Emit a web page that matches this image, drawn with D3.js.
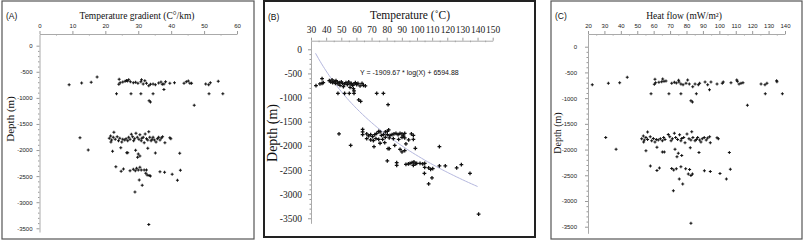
<!DOCTYPE html>
<html>
<head>
<meta charset="utf-8">
<script src="https://cdn.jsdelivr.net/npm/d3@7"></script>
<style>
  body { margin: 0; background: #fff; }
  svg { display: block; }
</style>
</head>
<body>
<script>
// ---- data: [x value, depth (m)] ----
const gradPoints = [
  [9.0,-747],[12.8,-715],[15.7,-702],[17.5,-600],
  [24.1,-741],[24.2,-645],[24.5,-709],[25.3,-696],[26.0,-683],[26.4,-665],[26.7,-677],[27.1,-652],[27.6,-690],
  [28.5,-709],[29.2,-702],[29.9,-722],[30.8,-690],[31.0,-655],[31.5,-734],[32.0,-672],[32.5,-722],[33.2,-766],
  [33.7,-741],[34.5,-734],[35.2,-747],[36.2,-715],[36.9,-696],[37.3,-741],[37.8,-734],[38.3,-690],[39.6,-722],
  [41.0,-709],[43.9,-722],[44.6,-690],[45.2,-675],[45.7,-722],[46.2,-722],[50.5,-734],[51.4,-747],[51.9,-709],[54.3,-683],
  [23.4,-920],[27.8,-920],[30.8,-920],[34.5,-920],[51.5,-920],[55.7,-920],
  [37.8,-842],[33.3,-1054],[33.7,-1079],[47.0,-1143],
  [12.3,-1763],[14.8,-1999],[22.6,-1660],
  [21.6,-1731],[21.2,-1775],[21.9,-1807],[21.7,-1846],[22.4,-1756],[23.0,-1794],[23.6,-1743],[24.0,-1820],
  [24.4,-1775],[25.0,-1846],[25.3,-1794],[25.9,-1807],[26.3,-1782],[26.8,-1820],[27.1,-1756],[27.5,-1794],
  [27.9,-1699],[28.3,-1743],[28.6,-1820],[28.9,-1782],[29.3,-1680],[29.7,-1756],[30.2,-1794],[30.5,-1705],
  [30.9,-1820],[31.1,-1775],[31.5,-1756],[31.8,-1858],[32.1,-1692],[32.5,-1782],[32.9,-1807],[33.2,-1648],
  [33.5,-1756],[33.9,-1820],[34.2,-1794],[34.5,-1756],[34.9,-1807],[35.4,-1846],[35.8,-1782],[36.2,-1756],
  [36.6,-1807],[37.0,-1769],[37.4,-1743],[38.1,-1858],[39.6,-1763],[39.9,-1782],
  [22.2,-2024],[24.7,-1954],[26.5,-2050],[26.8,-2050],[29.2,-2005],[30.0,-2075],[30.5,-2114],[29.8,-2139],
  [32.9,-1967],[35.2,-2056],[42.6,-2062],
  [23.2,-2318],[25.5,-2363],[24.8,-2407],[27.5,-2395],[28.5,-2369],[29.1,-2395],[29.5,-2350],[30.0,-2382],
  [30.5,-2331],[30.9,-2382],[31.8,-2382],[32.5,-2382],[32.3,-2446],[32.7,-2478],[33.3,-2490],[33.7,-2497],
  [36.6,-2414],[38.0,-2427],[40.3,-2465],[42.8,-2388],[41.9,-2580],[30.3,-2573],[31.2,-2675],[29.0,-2803],
  [33.2,-3429]
];

const tempPoints = [
  [33.3,-752],[35.9,-718],[37.3,-704],[38.1,-690],[37.3,-607],
  [42.1,-649],[43.0,-676],[43.9,-635],[44.3,-690],[45.2,-663],[46.1,-704],[46.5,-649],[47.4,-676],[47.8,-718],
  [48.7,-690],[49.2,-745],[50.0,-676],[50.9,-704],[51.4,-773],[52.2,-718],[53.1,-690],[54.0,-732],[54.9,-676],
  [55.8,-718],[56.6,-704],[57.5,-745],[58.4,-718],[59.3,-690],[60.2,-732],[61.0,-704],[62.4,-759],[63.7,-704],
  [64.6,-745],[65.9,-759],[58.0,-815],[55.8,-787],
  [47.8,-911],[52.2,-911],[55.3,-911],[58.4,-911],[58.4,-863],[61.5,-1049],[62.8,-1077],
  [73.4,-911],[77.8,-911],[80.9,-1146],
  [48.5,-1753],[56.2,-1988],[64.1,-1657],[64.1,-1712],[64.1,-1767],
  [66.8,-1753],[68.1,-1795],[69.4,-1767],[70.7,-1809],[72.1,-1767],[73.4,-1740],[74.7,-1698],[75.6,-1712],
  [76.5,-1781],[77.8,-1767],[79.1,-1712],[80.4,-1698],[81.3,-1671],[80.4,-1767],[82.2,-1781],[83.5,-1767],
  [84.8,-1753],[86.1,-1740],[87.5,-1767],[88.8,-1740],[90.1,-1753],[91.0,-1795],[91.9,-1740],[96.3,-1753],
  [97.6,-1781],[66.8,-1850],[69.4,-1878],[71.2,-1891],[72.9,-1850],[74.7,-1864],[77.3,-1864],[79.1,-1822],
  [81.7,-1836],[84.4,-1850],[87.9,-1864],[90.1,-1822],[91.9,-1836],[94.5,-1878],[97.6,-1864],
  [71.6,-2015],[75.6,-1946],[78.7,-1933],[80.9,-2057],[81.7,-2057],[85.3,-1988],[88.8,-2071],[90.1,-2126],
  [91.9,-2098],[92.7,-1960],[98.9,-2050],[114.8,-2015],
  [80.4,-2313],[86.6,-2347],[86.6,-2402],
  [92.7,-2382],[94.3,-2375],[95.4,-2361],[96.7,-2347],[98.0,-2333],[98.9,-2375],[97.6,-2402],[99.8,-2361],
  [102.0,-2361],[103.8,-2375],[105.1,-2361],[105.1,-2444],[107.7,-2458],[109.0,-2485],[110.4,-2472],
  [104.9,-2568],[109.9,-2665],[107.7,-2789],[114.8,-2416],[118.7,-2416],[126.2,-2458],[129.3,-2389],
  [135.0,-2568],[140.7,-3416]
];

const heatPoints = [
  [22.6,-738],[32.4,-713],[39.3,-700],[43.9,-595],
  [60.8,-635],[65.5,-628],[75.2,-654],[80.7,-648],[110.6,-648],[134.9,-661],
  [60.4,-732],[61.2,-700],[63.2,-693],[64.9,-680],[66.3,-674],[67.5,-667],[71.0,-713],[72.6,-693],[73.8,-706],
  [75.4,-687],[76.6,-726],[77.9,-738],[79.7,-713],[81.7,-726],[83.8,-777],[85.2,-726],[87.2,-738],[88.0,-713],
  [91.3,-687],[92.9,-738],[94.9,-687],[98.6,-726],[101.8,-713],[102.4,-687],[107.1,-700],[111.0,-674],
  [112.0,-726],[113.2,-713],[114.4,-700],[125.4,-726],[127.8,-738],[129.0,-713],[135.1,-680],
  [58.4,-913],[69.3,-913],[76.6,-913],[86.0,-913],[128.0,-913],[138.4,-913],
  [94.0,-835],[82.7,-1050],[83.6,-1076],[117.1,-1140],
  [30.8,-1763],[37.1,-1996],[56.3,-1659],
  [53.7,-1737],[52.7,-1789],[54.3,-1815],[53.9,-1854],[55.3,-1763],[56.3,-1802],[57.9,-1750],[58.8,-1828],
  [59.8,-1783],[60.8,-1854],[61.6,-1802],[62.8,-1815],[64.1,-1789],[65.3,-1828],[66.1,-1763],[66.9,-1802],
  [68.9,-1705],[69.8,-1750],[70.6,-1828],[71.4,-1789],[72.6,-1685],[73.4,-1763],[74.6,-1802],[75.8,-1711],
  [76.6,-1828],[77.1,-1783],[78.3,-1763],[79.1,-1867],[80.3,-1698],[81.5,-1789],[82.7,-1815],[83.2,-1653],
  [83.9,-1763],[85.2,-1828],[86.0,-1802],[86.8,-1763],[88.0,-1815],[88.8,-1854],[89.6,-1789],[90.8,-1763],
  [92.0,-1815],[92.9,-1776],[94.1,-1750],[94.5,-1867],[98.6,-1769],[99.4,-1789],
  [55.3,-2022],[62.0,-1957],[65.3,-2048],[66.5,-2048],[73.0,-1996],[75.0,-2074],[74.2,-2139],[77.1,-2113],
  [82.3,-1964],[87.6,-2055],[106.1,-2055],
  [58.0,-2320],[62.0,-2405],[63.5,-2360],[71.0,-2366],[72.2,-2398],[73.8,-2373],[76.6,-2334],[79.5,-2373],
  [81.9,-2386],[81.1,-2476],[82.7,-2502],[83.6,-2476],[90.9,-2411],[94.5,-2424],[100.4,-2463],[106.7,-2385],
  [104.3,-2573],[75.6,-2573],[77.7,-2670],[72.0,-2800],
  [82.7,-3435]
];

const gradTicks = [0, 10, 20, 30, 40, 50, 60];
const tempTicks = [30, 40, 50, 60, 70, 80, 90, 100, 110, 120, 130, 140, 150];
const heatTicks = [20, 30, 40, 50, 60, 70, 80, 90, 100, 110, 120, 130, 140];
const depthTicks = [0, -500, -1000, -1500, -2000, -2500, -3000, -3500];

// fitted curve printed on panel B: Y = a * ln(X) + b
const fitCoef = [-1909.67, 6594.88];
const fitRange = [33, 140];

const width = 803;
const height = 242;
const serif = "'Liberation Serif', 'Times New Roman', serif";
const sans = "'Liberation Sans', Arial, sans-serif";

const svg = d3.select("body").append("svg")
    .attr("width", width)
    .attr("height", height)
    .attr("viewBox", [0, 0, width, height]);

function drawPanel(o) {
  const g = svg.append("g");

  g.append("rect")
      .attr("x", o.frame[0]).attr("y", o.frame[1])
      .attr("width", o.frame[2]).attr("height", o.frame[3])
      .attr("fill", "#fff")
      .attr("stroke", o.frameColor)
      .attr("stroke-width", o.frameWidth);

  const x = d3.scaleLinear().domain(o.xDomain).range(o.xRange);
  const y = d3.scaleLinear().domain(o.yDomain).range(o.yRange);
  const x0 = o.xRange[0];
  const y0 = o.yRange[0];

  // minor ticks first, then the labelled axes
  const xMinor = d3.range(o.xDomain[0] + o.xStep / 2, o.xDomain[1], o.xStep);
  g.append("g")
      .attr("transform", `translate(0,${y0})`)
      .call(d3.axisTop(x).tickValues(xMinor).tickSize(-1.5).tickFormat(""))
      .call(a => a.select(".domain").remove());
  const yMinor = d3.range(0, -3600, -100).filter(v => v % 500 !== 0);
  g.append("g")
      .attr("transform", `translate(${x0},0)`)
      .call(d3.axisLeft(y).tickValues(yMinor).tickSize(1.5).tickFormat(""))
      .call(a => a.select(".domain").remove());

  const xAxis = g.append("g")
      .attr("transform", `translate(0,${y0})`)
      .call(d3.axisTop(x).tickValues(o.xTicks).tickSize(3).tickSizeOuter(0)
        .tickPadding(o.xPad).tickFormat(d => String(d)));
  const yAxis = g.append("g")
      .attr("transform", `translate(${x0},0)`)
      .call(d3.axisLeft(y).tickValues(depthTicks).tickSize(3).tickSizeOuter(0)
        .tickPadding(o.yPad).tickFormat(d => String(d)));

  [xAxis, yAxis].forEach(a => {
    a.selectAll(".domain").attr("stroke", "#aaa");
    a.selectAll("text")
        .attr("fill", "#222")
        .style("font-family", o.tickFont)
        .style("font-size", o.tickSize + "px");
  });
  g.selectAll(".tick line").attr("stroke", "#999");

  if (o.fit) {
    const line = d3.line()
        .x(d => x(d))
        .y(d => y(fitCoef[0] * Math.log(d) + fitCoef[1]));
    g.append("path")
        .datum(d3.range(fitRange[0], fitRange[1] + 0.5, 1))
        .attr("fill", "none")
        .attr("stroke", "#b4b7de")
        .attr("stroke-width", 1)
        .attr("d", line);
    g.append("text")
        .attr("x", o.fitLabel[0]).attr("y", o.fitLabel[1])
        .style("font-family", sans).style("font-size", "7px")
        .attr("fill", "#111")
        .text("Y = -1909.67 * log(X) + 6594.88");
  }

  g.selectAll("path.pt")
    .data(o.data)
    .enter().append("path")
      .attr("class", "pt")
      .attr("transform", d => `translate(${x(d[0])},${y(d[1])})`)
      .attr("d", d3.symbol(d3.symbolCross, o.symSize))
      .attr("fill", "#111");

  g.append("text")
      .attr("x", o.tag[0]).attr("y", o.tag[1])
      .style("font-family", sans).style("font-size", o.tagSize + "px")
      .attr("fill", "#111")
      .text(o.tagText);

  g.append("text")
      .attr("x", o.title[0]).attr("y", o.title[1])
      .attr("text-anchor", "middle")
      .style("font-family", serif).style("font-size", o.titleSize + "px")
      .attr("fill", "#111")
      .text(o.titleText);

  g.append("text")
      .attr("transform", `translate(${o.ylab[0]},${o.ylab[1]}) rotate(-90)`)
      .attr("text-anchor", "middle")
      .attr("dominant-baseline", "central")
      .style("font-family", serif).style("font-size", o.ylabSize + "px")
      .attr("fill", "#111")
      .text("Depth (m)");
}

drawPanel({
  frame: [2, 1, 252, 238], frameColor: "#555", frameWidth: 1.2,
  xDomain: [0, 60], xRange: [39.5, 237], xStep: 10, xTicks: gradTicks,
  yDomain: [224, -3571], yRange: [34, 232],
  tickFont: sans, tickSize: 6, xPad: 3.5, yPad: 4,
  data: gradPoints, symSize: 5,
  tag: [6, 18.5], tagText: "(A)", tagSize: 8.5,
  title: [137, 18.5], titleText: "Temperature gradient (C°/km)", titleSize: 9.5,
  ylab: [9.5, 119], ylabSize: 11
});

drawPanel({
  frame: [264, 1, 271, 236], frameColor: "#222", frameWidth: 2,
  xDomain: [30, 150], xRange: [311, 492.7], xStep: 10, xTicks: tempTicks,
  yDomain: [178, -3604], yRange: [40.7, 223.3],
  tickFont: serif, tickSize: 9.5, xPad: 5, yPad: 6,
  data: tempPoints, symSize: 8,
  fit: true, fitLabel: [360, 74.5],
  tag: [268, 20], tagText: "(B)", tagSize: 8.5,
  title: [410, 18.5], titleText: "Temperature (˚C)", titleSize: 11.5,
  ylab: [272.5, 133], ylabSize: 14
});

drawPanel({
  frame: [551, 1, 251, 238], frameColor: "#555", frameWidth: 1.2,
  xDomain: [20, 140], xRange: [588, 785], xStep: 10, xTicks: heatTicks,
  yDomain: [247, -3628], yRange: [34, 233.3],
  tickFont: sans, tickSize: 6, xPad: 3.5, yPad: 8,
  data: heatPoints, symSize: 5,
  tag: [555, 18.5], tagText: "(C)", tagSize: 8.5,
  title: [684, 18.5], titleText: "Heat flow (mW/m²)", titleSize: 9.5,
  ylab: [557, 133], ylabSize: 10
});
</script>
</body>
</html>
